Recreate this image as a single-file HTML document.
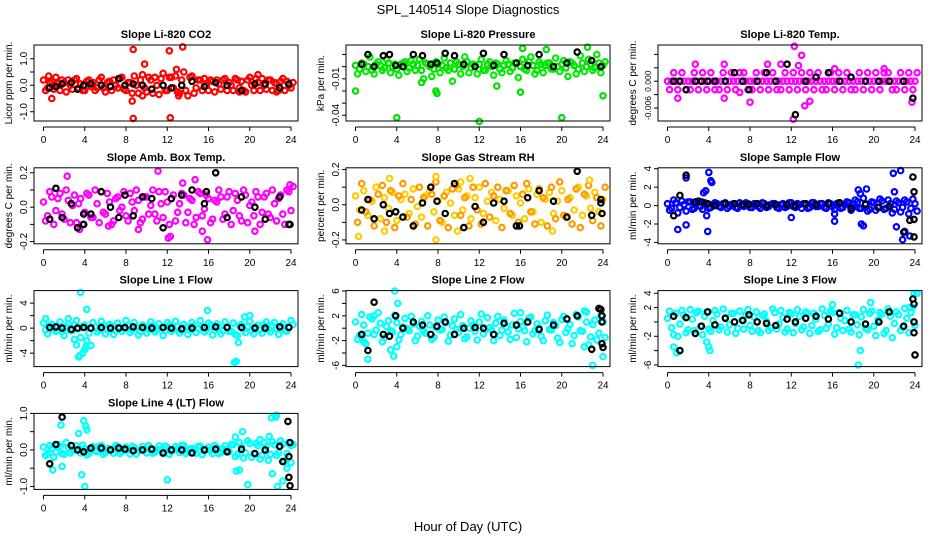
<!DOCTYPE html>
<html><head><meta charset="utf-8">
<style>
html,body{margin:0;padding:0;background:#fff;}
svg{display:block;font-family:"Liberation Sans",sans-serif;}
</style></head>
<body>
<svg id="chart" width="936" height="540" viewBox="0 0 936 540" xmlns="http://www.w3.org/2000/svg">
<text x="468" y="14" font-size="13" text-anchor="middle">SPL_140514  Slope Diagnostics</text>
<text x="468" y="531" font-size="13" text-anchor="middle">Hour of Day (UTC)</text>
</svg>
<script>
const hours=[0,0.4,0.8,1.2,1.6,2,2.4,2.8,3.2,3.6,4,4.4,4.8,5.2,5.6,6,6.4,6.8,7.2,7.6,8,8.4,8.8,9.2,9.6,10,10.4,10.8,11.2,11.6,12,12.4,12.8,13.2,13.6,14,14.4,14.8,15.2,15.6,16,16.4,16.8,17.2,17.6,18,18.4,18.8,19.2,19.6,20,20.4,20.8,21.2,21.6,22,22.4,22.8,23.2,23.6,24];
const blackHours=[0.6,1.2,1.8,2.7,3.3,3.9,4.6,5.6,6.5,7.3,7.9,8.7,9.6,10.5,11.6,12.4,13.4,14.4,15.6,16.7,17.8,19.2,20.5,21.5,22.9,23.8];
const xTicks=[0,4,8,12,16,20,24];

// Panel 1: CO2
const co2A=[0.2,-0.1,0.15,0.3,-0.2,0.1,0.2,-0.15,0.25,0.05,-0.2,0.2,0.1,-0.1,0.3,-0.25,0.15,0.2,-0.1,0.3,-0.2,0.1,0.35,-0.3,0.4,-0.25,0.2,0.3,-0.35,0.45,-0.2,0.3,0.35,-0.3,0.5,-0.4,0.35,-0.1,0.2,0.25,-0.2,0.15,0.2,-0.15,0.25,0.1,-0.2,0.2,0.15,-0.25,0.3,-0.2,0.1,0.25,-0.15,0.2,0.1,-0.2,0.25,0.15,-0.1];
const co2B=[-0.2,0.1,-0.15,0.05,0.2,-0.25,0,0.2,-0.1,-0.2,0.15,-0.05,-0.2,0.2,-0.1,0.1,-0.2,0,0.25,-0.15,0.1,-0.3,0,0.2,-0.1,0.3,-0.3,0,0.25,-0.2,0.3,-0.1,-0.25,0.2,-0.2,0.3,-0.3,0.2,-0.2,0,0.2,-0.25,0.05,0.2,-0.2,0,0.25,-0.1,-0.2,0.2,0,0.25,-0.2,0,0.2,-0.2,0.05,0.15,-0.2,0,0.1];
const co2Out=[[0.8,-0.5],[0.5,0.35],[8.7,1.35],[8.6,-0.6],[8.7,-1.25],[9.8,0.8],[9.6,-0.4],[12.2,1.3],[12.3,-1.23],[13.5,1.45],[12.9,0.6],[13.1,-0.4],[19,-0.25],[20.8,0.4],[22.6,-0.25]];
const co2Blk=[-0.1,-0.05,0.05,0.1,-0.15,0,0.05,0,-0.05,0.25,0,0.05,0,-0.15,0,-0.1,0,0.15,-0.05,0.1,0,-0.2,0.05,0.05,-0.1,0.05];
const co2BlkOut=[];

// Panel 2: Pressure
const presA=[0.001,-0.002,0.002,0,-0.003,0.002,0.001,-0.001,0.003,0,-0.002,0.002,0.004,-0.001,0.002,0.001,-0.003,0.003,0,-0.002,0.002,0.001,-0.001,0.003,-0.002,0.002,0,0.004,-0.001,0.001,0.002,-0.003,0.002,0,0.003,-0.002,0.001,0.002,-0.001,0.003,0,-0.002,0.004,0.001,-0.003,0.002,0.001,0.003,-0.002,0,0.002,-0.001,0.004,0.001,-0.002,0.003,0,0.002,-0.001,0.003,0.001];
const presB=[-0.006,0.003,-0.004,0.008,-0.006,0.004,-0.003,0.006,-0.005,0.002,-0.007,0.003,-0.004,0.005,-0.003,0.006,-0.01,0.002,-0.008,0.004,-0.005,0.007,-0.003,-0.012,0.004,-0.006,0.008,-0.005,0.002,-0.006,0.006,-0.003,0.004,-0.007,0.002,-0.005,0.005,-0.004,0.003,-0.009,0.006,-0.003,0.008,-0.006,0.004,-0.005,0.003,-0.002,0.007,-0.004,0.005,-0.008,0.003,-0.006,0.009,-0.004,0.006,-0.003,0.01,-0.005,0.004];
const presOut=[[0,-0.02],[4,-0.042],[12,-0.045],[20,-0.042],[24,-0.024],[7.8,-0.02],[7.9,-0.022],[16,-0.021],[22.5,0.016],[18.5,0.014],[6.4,-0.013],[13.7,-0.016],[16.2,0.015]];
const presBlk=[0.002,0.01,0,0.009,0.01,0.001,0,0.01,0.009,0.002,0.003,0.011,0.009,0.002,0,0.011,0.001,0.01,0.003,0.001,0.01,0,0.003,0.012,0.005,0];
const presBlkOut=[];

// Panel 3: Li-820 Temp
const tempA=[0,0,0,0,0,0,0,0,0,0,0,0,0,0,0,0,0,0,0,0,0,0,0,0,0,0,0,0,0,0,0,0,0,0,0,0,0,0,0,0,0,0,0,0,0,0,0,0,0,0,0,0,0,0,0,0,0,0,0,0,0];
const tempB=[-0.0019,0.0019,-0.0019,0.0019,-0.0019,-0.0019,0.0019,-0.0019,0.0019,-0.0019,0.0019,-0.0019,-0.0019,0.0019,-0.0019,0.0019,-0.0019,0.0019,0.0019,-0.0019,-0.0019,0.0019,-0.0019,0.0019,-0.0019,0.0019,-0.0019,-0.0019,0.0019,-0.0019,0.0019,-0.0019,0.0019,-0.0019,0.0019,-0.0019,0.0019,-0.0019,-0.0019,0.0019,-0.0019,0.0019,-0.0019,0.0019,-0.0019,-0.0019,0.0019,-0.0019,0.0019,-0.0019,0.0019,-0.0019,0.0019,0.0019,-0.0019,-0.0019,0.0019,-0.0019,0.0019,-0.0019,0.0019];
const tempOut=[[12.3,0.0078],[13,0.0058],[12.2,-0.0085],[13.3,-0.0055],[1,-0.0038],[5.5,-0.0038],[8,-0.0047],[23.7,-0.0047],[12.7,0.0035],[13.8,-0.0045],[7,-0.0025],[16.2,0.0028],[2.7,0.0038],[5.5,0.0038],[9.7,0.0038],[11,0.0038],[21,0.0028]];
const tempBlk=[0,0,-0.0019,0,0,0,0,0,0.0019,0,-0.0019,0,0.0019,0,0.0038,-0.0075,0,0.0009,0.0019,0,0.0009,0,0,0,0,-0.0038];
const tempBlkOut=[];

// Panel 4: Amb Box Temp
const ambA=[0.03,-0.05,0.06,-0.02,0.08,-0.07,0.04,0.01,-0.09,0.05,-0.03,0.07,-0.06,0.02,0.09,-0.04,0.03,-0.08,0.06,0,-0.05,0.08,-0.02,0.04,-0.07,0.06,0.01,-0.04,0.09,-0.06,0.03,0.05,-0.08,0.02,0.07,-0.03,0.04,-0.06,0.08,-0.01,0.05,-0.07,0.03,0.06,-0.04,0.09,-0.02,0.04,-0.08,0.07,0.01,-0.05,0.06,-0.03,0.08,-0.06,0.02,0.05,-0.04,0.1,-0.02];
const ambB=[-0.08,0.09,-0.1,0.05,-0.04,0.1,-0.09,0.07,0.02,-0.1,0.08,-0.06,0.1,-0.09,-0.03,0.08,-0.1,0.05,-0.02,0.09,-0.08,0.03,0.1,-0.09,0.06,-0.04,0.1,-0.08,0.02,0.09,-0.1,0.07,-0.03,0.08,-0.09,0.05,-0.1,0.09,-0.05,0.07,-0.09,0.04,0.1,-0.07,0.06,-0.1,0.08,-0.05,0.1,-0.09,0.03,0.09,-0.1,0.06,-0.04,0.1,-0.08,0.07,-0.1,0.09,0.12];
const ambOut=[[2.3,0.18],[3.5,-0.13],[11.1,0.21],[12.1,-0.18],[12.3,-0.17],[13.5,0.14],[14.7,0.16],[15.9,-0.19],[15.4,-0.14],[20.5,-0.14],[9.2,-0.13],[6.3,-0.11],[23.9,0.13]];
const ambBlk=[-0.07,0.11,-0.06,0.02,-0.12,-0.1,-0.04,0.09,0,-0.06,0.07,-0.05,0.06,0.05,-0.12,0.05,0.07,0.1,0.02,0.2,-0.06,0.06,0,-0.07,0.06,-0.1];
const ambBlkOut=[[3.9,-0.04],[15.8,0.09],[23.9,-0.1]];

// Panel 5: Gas Stream RH
const rhA=[0.05,-0.03,0.08,-0.06,0.02,0.1,-0.08,0.04,-0.02,0.07,-0.09,0.03,0.06,-0.05,0.09,-0.01,-0.07,0.05,0.08,-0.04,0.02,-0.1,0.07,0.01,-0.06,0.09,-0.03,0.05,-0.08,0.04,0.1,-0.05,0.02,0.07,-0.09,0.03,-0.02,0.08,-0.06,0.05,0.01,-0.08,0.09,-0.04,0.06,-0.1,0.03,0.07,-0.05,0.02,0.08,-0.07,0.04,-0.03,0.1,-0.06,0.05,-0.02,0.07,-0.04,0.03];
const rhB=[-0.1,0.12,-0.04,0.03,-0.12,0.06,0.11,-0.1,0.08,-0.13,0.05,0.12,-0.07,0.03,-0.11,0.1,0.04,-0.12,0.06,0.13,-0.09,0.05,-0.13,0.09,0.11,-0.06,0.04,-0.12,0.1,-0.03,-0.11,0.12,-0.07,0.05,0.1,-0.13,0.08,-0.05,0.11,-0.1,0.06,0.12,-0.04,-0.11,0.09,0.04,-0.12,0.1,-0.08,0.13,-0.06,0.03,-0.11,0.09,-0.13,0.06,0.11,-0.09,0.04,-0.12,0.1];
const rhOut=[[0.3,-0.18],[3.3,0.15],[2.8,-0.15],[7.8,-0.2],[7.8,0.16],[10.2,0.13],[11.1,0.15],[19.1,-0.15],[22.7,0.14],[9.9,-0.15]];
const rhBlk=[-0.03,0.03,-0.08,0,-0.05,-0.04,-0.07,-0.12,0.01,0.1,0.02,-0.05,0.12,-0.13,-0.01,-0.1,0.01,0.02,-0.12,0.04,0.08,0.02,-0.07,0.19,-0.06,0.03];
const rhBlkOut=[[23.9,-0.05],[23.8,0.01],[15.9,-0.12]];

// Panel 6: Sample Flow
const sfA=[0.2,-0.3,0.3,-0.2,0.1,0.4,-0.4,0.2,-0.1,0.3,-0.3,0.1,0.2,-0.2,0.3,-0.1,0.2,-0.3,0.1,0.3,-0.2,0.2,-0.1,0.3,-0.2,0.1,0.2,-0.3,0.2,-0.1,0.3,-0.2,0.1,0.2,-0.3,0.3,-0.1,0.2,-0.2,0.3,-0.1,0.2,-0.3,0.1,0.3,-0.2,0.4,-0.3,0.2,-0.4,0.3,-0.2,0.5,-0.3,0.2,-0.4,0.3,-0.2,0.4,-0.3,0.2];
const sfB=[-0.5,0.6,-0.8,0.5,-0.6,0.4,-0.3,0.5,-0.4,0.2,-0.2,0.3,-0.1,0.2,-0.3,0.1,-0.2,0.3,-0.1,0.2,-0.2,0.1,-0.3,0.2,-0.1,0.2,-0.2,0.1,-0.2,0.3,-0.1,0.2,-0.3,0.1,-0.2,0.3,-0.1,0.2,-0.3,0.2,-0.4,0.3,-0.2,0.4,-0.5,0.6,-0.3,0.8,-0.6,0.4,-0.5,0.7,-0.4,0.6,-0.8,0.5,-0.7,0.6,-0.9,0.7,-0.6];
const sfOut=[[1,-2.6],[1.8,-2.1],[1.8,3.0],[3.5,1.4],[3.7,1.6],[3.9,-2.8],[4.0,3.6],[4.2,2.7],[4.3,2.5],[3.8,-1.1],[12,-1.3],[16.2,-1.7],[16.2,-0.9],[18.5,1.7],[18.8,-2.0],[19,-2.2],[19.3,1.8],[18.7,1.3],[21.9,3.5],[22.0,1.5],[22.2,-2.3],[22.6,3.8],[23,-2.8],[23.5,-3.3],[22.8,-3.7]];
const sfBlk=[-1.1,1.1,3.3,0.4,0.4,0.2,0,0.2,0.2,0.1,0.1,0.2,0,0.1,0.1,0,0.2,0.1,0.2,0.3,-0.3,0.1,-0.2,-0.1,-2.9,3.1];
const sfBlkOut=[[23.5,-1.6],[23.9,-3.4],[23.9,1.5],[23.9,-1.5]];

// Panel 7: Line 1 Flow
const l1A=[0.8,-0.9,0.6,-0.5,1.0,-1.2,0.7,-0.4,1.2,-1.5,0.5,-0.8,0.9,-0.6,1.1,-0.9,0.6,-1.0,0.8,-0.5,1.2,-0.7,0.9,-1.1,0.5,-0.8,1.0,-0.6,0.7,-1.2,0.9,-0.5,1.1,-0.8,0.6,-1.0,0.9,-0.7,1.2,-0.6,0.8,-1.1,0.7,-0.9,1.0,-0.5,0.8,-1.2,0.6,-0.7,1.1,-0.9,0.5,-0.8,1.0,-0.6,0.9,-1.0,0.7,-0.5,1.2];
const l1B=[-0.3,0.4,-0.2,0.3,-0.5,0.2,-0.4,0.5,-0.1,0.3,-2.0,-2.8,0.2,-0.3,0.4,-0.2,0.3,-0.4,0.2,-0.1,0.4,-0.3,0.2,-0.5,0.3,-0.2,0.4,-0.3,0.1,-0.4,0.5,-0.2,0.3,-0.4,0.2,-0.3,0.4,-0.1,0.3,-0.2,0.5,-0.3,0.2,-0.4,0.3,-0.5,-1.0,0.4,-0.2,0.3,-0.4,0.2,-0.3,0.5,-0.2,0.4,-0.1,0.3,-0.4,0.2,0.6];
const l1Out=[[3.6,5.7],[3.4,-4.6],[3.5,-4.4],[3.8,-4.0],[4.1,-3.0],[4.0,-3.4],[4.2,3.0],[3.0,-1.8],[3.2,-2.7],[15.9,2.8],[18.5,-5.5],[18.7,-5.3],[18.9,-2.3],[19.5,1.8],[20,2.0],[2.4,1.5],[0.2,1.5]];
const l1Blk=[0.1,0.2,0,-0.2,0,0.1,0,0.1,0,0,0.1,0.2,0.1,0,0.1,0,-0.1,0,0.1,0.2,0.1,0.1,0,0,0.2,0.1];
const l1BlkOut=[];

// Panel 8: Line 2 Flow
const l2A=[1.0,-1.2,0.5,-0.8,1.5,-0.3,0.8,-1.5,1.2,-0.6,0.9,-1.0,1.6,-0.4,0.7,-1.3,1.1,-0.8,0.5,-1.5,1.3,-0.2,0.9,-1.1,1.5,-0.7,0.4,-1.4,1.2,-0.5,1.0,-0.9,1.7,-0.3,0.8,-1.2,1.3,-0.6,0.5,-1.5,1.1,-0.4,1.6,-0.9,0.7,-1.3,1.2,-0.2,0.9,-1.6,1.4,-0.7,0.6,-1.2,1.8,-0.5,1.0,-1.4,1.3,-0.8,1.1];
const l2B=[-1.8,2.2,-2.5,1.8,-1.0,2.5,-2.2,0.3,-0.4,2.1,-1.9,0.2,-0.1,1.9,-2.0,0.3,-0.5,2.0,-1.8,0.1,-0.3,1.8,-2.1,0.4,-0.2,2.2,-1.7,0,0.5,-1.9,2.3,-0.2,0.1,-2.0,1.9,-0.3,0.2,-1.8,2.4,-0.1,0.3,-2.2,1.8,-0.4,0.1,-2.0,2.1,-0.3,0.4,-2.3,1.9,-0.1,-2.5,2.2,-0.4,2.8,-2.7,0.6,-1.9,2.0,-1.5];
const l2Out=[[3.8,6.0],[4.1,4.0],[1.2,-5.0],[3.7,-4.5],[3.4,-3.5],[4.0,-3.0],[0.6,-1.5],[0.8,-2.2],[16,2.5],[23,-6.0],[22.4,2.6],[22.2,-3.0],[24,-4.6],[1.8,2.0]];
const l2Blk=[-1.0,-3.6,4.2,-1.0,-1.3,2.0,0,1.0,0.5,-1.0,0.3,1.0,-1.0,0,0.1,0,-1.0,0.8,0.5,1.0,-0.2,0.5,1.5,2.0,-3.4,3.0];
const l2BlkOut=[[23.9,1.0],[23.9,-2.5],[24,-3.1],[23.6,3.2],[23.9,2.0]];

// Panel 9: Line 3 Flow
const l3A=[0.5,-0.8,1.2,-0.3,0.9,-1.1,0.4,1.3,-0.6,0.8,-1.0,0.2,1.1,-0.7,0.6,-0.4,1.2,-0.9,0.3,1.0,-0.5,0.7,-1.2,0.9,0.1,-0.8,1.3,-0.3,0.6,-1.0,1.1,-0.2,0.8,-0.7,1.2,-0.5,0.4,-1.1,0.9,-0.3,1.3,-0.8,0.5,0.2,-1.0,1.0,-0.4,0.7,-0.9,1.2,-0.6,0.3,1.1,-1.2,0.8,-0.2,1.0,-0.7,0.5,1.3,-0.5];
const l3B=[1.5,-1.8,-2.0,1.6,-1.5,1.7,-1.2,1.5,-1.8,1.4,-1.3,1.6,-1.1,1.8,-1.4,1.2,-1.6,1.5,-1.0,1.7,-1.3,1.4,-1.5,1.1,-1.2,1.8,-1.0,1.6,-1.4,1.3,-1.5,1.7,-1.1,1.4,-1.6,1.2,-1.3,1.8,-0.9,1.5,-1.7,1.3,-1.2,1.6,-1.4,1.0,-1.8,1.7,-1.1,1.5,-1.9,1.3,-1.6,1.8,-2.2,1.4,-1.2,1.9,-1.5,2.0,4.0];
const l3Out=[[0.6,-3.5],[0.9,-4.3],[3.8,-2.8],[4.0,-3.5],[4.1,-4.0],[16,2.4],[18.5,-6.0],[18.7,-4.0],[19.7,2.7],[23.5,2.0],[23.9,4.0]];
const l3Blk=[0.8,-4.0,0.6,-1.6,-0.6,1.4,-0.4,0.5,0,0.2,1.0,0,-0.2,-0.5,0.4,0,0.5,0.8,0.4,1.2,0,-0.3,0,1.4,-0.6,3.2];
const l3BlkOut=[[23.9,2.5],[23.9,-1.5],[24,-4.6],[23.9,0]];

// Panel 10: Line 4 (LT) Flow
const l4A=[0.08,-0.1,0.05,-0.06,0.1,-0.12,0.07,-0.03,0.11,-0.08,0.04,-0.1,0.09,-0.05,0.12,-0.07,0.03,-0.09,0.1,-0.04,0.08,-0.11,0.06,-0.02,0.1,-0.08,0.05,-0.06,0.11,-0.1,0.07,-0.04,0.09,-0.07,0.12,-0.05,0.04,-0.09,0.1,-0.03,0.08,-0.1,0.06,-0.07,0.11,-0.04,0.15,-0.12,0.1,-0.08,0.18,-0.1,0.12,-0.15,0.09,-0.12,0.14,-0.08,0.16,-0.1,0.12];
const l4B=[-0.15,0.12,-0.2,0.15,-0.1,0.2,-0.08,0,0.02,0.13,-0.14,0.01,-0.02,0.1,-0.12,0.03,0,0.12,-0.1,-0.01,0.02,0.1,-0.11,0,0.01,0.12,-0.09,0.02,-0.01,0.11,-0.12,0,0.03,0.12,-0.1,0.02,0,0.1,-0.13,0.01,-0.02,0.12,-0.1,0.03,0,0.15,-0.18,0.2,-0.22,0.25,-0.2,0.18,-0.25,0.2,-0.28,0.22,-0.15,0.25,-0.3,0.2,0.15];
const l4Out=[[0.9,-0.55],[1.7,0.68],[1.8,-0.45],[3.4,0.45],[3.7,-0.68],[3.9,0.8],[4.1,0.65],[4.2,0.55],[4.0,-1.0],[12,-0.82],[18.6,0.35],[18.7,-0.58],[19.0,-0.55],[19.3,0.5],[19.8,-0.95],[21,0.28],[21.9,0.37],[22.1,0.88],[22.5,0.9],[22.6,0.95],[22.2,-0.65],[22.7,-1.0],[23.2,-0.85],[23.6,-0.5],[24,-0.35]];
const l4Blk=[-0.38,0.15,0.9,0.12,0,-0.05,0.05,0.05,0,0.05,0.02,-0.02,0,0.02,-0.08,0,0,-0.08,0,0.02,-0.05,0.02,-0.1,0,0.1,-0.75];
const l4BlkOut=[[23.2,-0.32],[23.7,0.78],[23.9,0.2],[23.8,-0.18],[23.9,-0.98]];

const panels=[
 {name:'co2',title:'Slope Li-820 CO2',ylab:'Licor ppm per min.',col:0,row:0,min:-1.35,max:1.52,ticks:[-1,-0.5,0,0.5,1],labels:{'-1':'-1.0','0':'0.0','1':'1.0'},cA:'#ff0000',cB:'#ff0000',A:co2A,B:co2B,O:co2Out,K:co2Blk,KO:co2BlkOut,fs:10},
 {name:'pressure',title:'Slope Li-820 Pressure',ylab:'kPa per min.',col:1,row:0,min:-0.0447,max:0.0178,ticks:[0.01,0,-0.01,-0.02,-0.03,-0.04],labels:{'-0.01':'-0.01','-0.04':'-0.04'},cA:'#00e000',cB:'#00ee00',A:presA,B:presB,O:presOut,K:presBlk,KO:presBlkOut,fs:10},
 {name:'li820-temp',title:'Slope Li-820 Temp.',ylab:'degrees C per min.',col:2,row:0,min:-0.0089,max:0.0081,ticks:[0.006,0.003,0,-0.003,-0.006],labels:{'0':'0.000','-0.006':'-0.006'},cA:'#ff00ff',cB:'#ff00ff',A:tempA,B:tempB,O:tempOut,K:tempBlk,KO:tempBlkOut,fs:8.5},
 {name:'amb-box-temp',title:'Slope Amb. Box Temp.',ylab:'degrees C per min.',col:0,row:1,min:-0.213,max:0.229,ticks:[-0.2,-0.1,0,0.1,0.2],labels:{'-0.2':'-0.2','0':'0.0','0.2':'0.2'},cA:'#ff00ff',cB:'#ff00ff',A:ambA,B:ambB,O:ambOut,K:ambBlk,KO:ambBlkOut,fs:10},
 {name:'gas-stream-rh',title:'Slope Gas Stream RH',ylab:'percent per min.',col:1,row:1,min:-0.222,max:0.21,ticks:[-0.2,-0.1,0,0.1,0.2],labels:{'-0.2':'-0.2','0':'0.0','0.2':'0.2'},cA:'#ffcc00',cB:'#ff9900',A:rhA,B:rhB,O:rhOut,K:rhBlk,KO:rhBlkOut,fs:10},
 {name:'sample-flow',title:'Slope Sample Flow',ylab:'ml/min per min.',col:2,row:1,min:-4.15,max:4.1,ticks:[-4,-2,0,2,4],labels:{'-4':'-4','-2':'-2','0':'0','2':'2','4':'4'},cA:'#0000ff',cB:'#0000ff',A:sfA,B:sfB,O:sfOut,K:sfBlk,KO:sfBlkOut,fs:10},
 {name:'line1-flow',title:'Slope Line 1 Flow',ylab:'ml/min per min.',col:0,row:2,min:-6.15,max:6.0,ticks:[-4,-2,0,2,4],labels:{'-4':'-4','0':'0','4':'4'},cA:'#00ffff',cB:'#00ffff',A:l1A,B:l1B,O:l1Out,K:l1Blk,KO:l1BlkOut,fs:10},
 {name:'line2-flow',title:'Slope Line 2 Flow',ylab:'ml/min per min.',col:1,row:2,min:-6.2,max:6.07,ticks:[-6,-4,-2,0,2,4,6],labels:{'-6':'-6','-2':'-2','2':'2','6':'6'},cA:'#00ffff',cB:'#00ffff',A:l2A,B:l2B,O:l2Out,K:l2Blk,KO:l2BlkOut,fs:10},
 {name:'line3-flow',title:'Slope Line 3 Flow',ylab:'ml/min per min.',col:2,row:2,min:-6.23,max:4.37,ticks:[-6,-4,-2,0,2,4],labels:{'-6':'-6','-2':'-2','2':'2','4':'4'},cA:'#00ffff',cB:'#00ffff',A:l3A,B:l3B,O:l3Out,K:l3Blk,KO:l3BlkOut,fs:10},
 {name:'line4-lt-flow',title:'Slope Line 4 (LT) Flow',ylab:'ml/min per min.',col:0,row:3,min:-1.08,max:1.0,ticks:[-1,-0.5,0,0.5,1],labels:{'-1':'-1.0','0':'0.0','1':'1.0'},cA:'#00ffff',cB:'#00ffff',A:l4A,B:l4B,O:l4Out,K:l4Blk,KO:l4BlkOut,fs:10}
];

const NS='http://www.w3.org/2000/svg';
const svg=document.getElementById('chart');
function mk(tag,attrs,parent){const e=document.createElementNS(NS,tag);for(const k in attrs)e.setAttribute(k,attrs[k]);parent.appendChild(e);return e;}

panels.forEach(p=>{
  const L=34+312*p.col, T=45+122.8*p.row, W=264, Hh=76;
  const xs=h=>L+9.5+h*(247.5/24);
  const ys=v=>T+(p.max-v)/(p.max-p.min)*Hh;
  const g=mk('g',{},svg);
  
  
  const t=mk('text',{x:L+W/2,y:T-7,'font-size':11,'font-weight':'bold','text-anchor':'middle'},g);
  t.textContent=p.title;
  
  
  const yl=mk('text',{x:0,y:0,'font-size':10,'text-anchor':'middle',transform:`translate(${L-22},${T+Hh/2}) rotate(-90)`},g);
  yl.textContent=p.ylab;
  
  
  const pts=mk('g',{fill:'none','stroke-width':2.2},g);
  
  
  const dot=(h,v,c,parent)=>{
    const el=mk('circle',{cx:xs(h).toFixed(1),cy:ys(v).toFixed(1),r:2.7,stroke:c},parent);
    
    
  };
  p.A.forEach((v,i)=>{if(i<hours.length)dot(hours[i],v,p.cA,pts);});
  p.B.forEach((v,i)=>{if(i<hours.length)dot(hours[i]+0.2,v,p.cB,pts);});
  p.O.forEach(o=>dot(o[0],o[1],p.cA,pts));
  const bk=mk('g',{fill:'none','stroke-width':2.2},g);
  
  
  p.K.forEach((v,i)=>{if(i<blackHours.length)dot(blackHours[i],v,'#000',bk);});
  p.KO.forEach(o=>dot(o[0],o[1],'#000',bk));
  const box=mk('rect',{x:L,y:T,width:W,height:Hh,fill:'none',stroke:'#000','stroke-width':1},g);
  
  
  const xa=mk('g',{stroke:'#000','stroke-width':1},g);
  
  
  const ay=T+Hh+6;
  mk('line',{x1:xs(0),y1:ay,x2:xs(24),y2:ay},xa);
  xTicks.forEach(h=>{
    mk('line',{x1:xs(h),y1:ay,x2:xs(h),y2:ay+4},xa);
    const tl=mk('text',{x:xs(h),y:ay+16,'font-size':10,'text-anchor':'middle',stroke:'none',fill:'#000'},xa);
    tl.textContent=h;
    
    
  });
  const ya=mk('g',{stroke:'#000','stroke-width':1},g);
  
  
  p.ticks.forEach(v=>{
    const yy=ys(v);
    mk('line',{x1:L-4,y1:yy,x2:L,y2:yy},ya);
    const key=String(v);
    if(p.labels[key]!==undefined){
      const tl=mk('text',{x:0,y:0,'font-size':p.fs,'text-anchor':'middle',stroke:'none',fill:'#000',transform:`translate(${L-7},${yy}) rotate(-90)`},ya);
      tl.textContent=p.labels[key];
      
      
    }
  });
});
</script>
</body></html>
